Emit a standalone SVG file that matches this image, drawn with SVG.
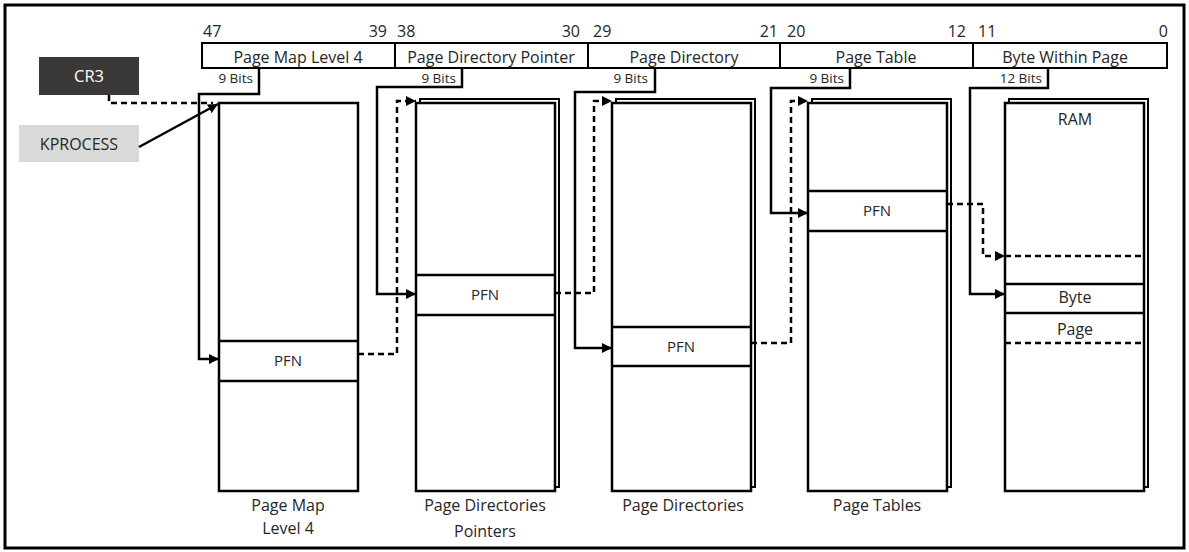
<svg xmlns="http://www.w3.org/2000/svg" width="1189" height="552" viewBox="0 0 1189 552">
<style>
text{font-family:"Open Sans","Liberation Sans",sans-serif;fill:#262626}
.num{font-size:16px}
.bar{font-size:16px;text-anchor:middle}
.bits{font-size:13.5px;text-anchor:end}
.lbl{font-size:16px;text-anchor:middle}
.pfn{font-size:15px;text-anchor:middle}
.box{fill:#fff;stroke:#000;stroke-width:2.5}
.back{fill:#fff;stroke:#000;stroke-width:2}
.row{stroke:#000;stroke-width:2.5}
.rowd{stroke:#000;stroke-width:2.5;stroke-dasharray:6 4}
.c{fill:none;stroke:#000;stroke-width:2.5}
.d{fill:none;stroke:#000;stroke-width:2.5;stroke-dasharray:6 4}
</style>
<defs>
<marker id="ah" markerUnits="userSpaceOnUse" markerWidth="10" markerHeight="10" refX="10" refY="5" orient="auto">
<path d="M0,0 L10,5 L0,10 z" fill="#000"/>
</marker>
</defs>
<rect x="5" y="5" width="1179" height="543" fill="#fff" stroke="#000" stroke-width="3"/>

<g id="address">
<rect x="202" y="43" width="965" height="25" fill="#fff" stroke="#000" stroke-width="2"/>
<path d="M395,43V68M588,43V68M780,43V68M973,43V68" stroke="#000" stroke-width="2"/>
<text class="bar" x="298" y="63">Page Map Level 4</text>
<text class="bar" x="491" y="63">Page Directory Pointer</text>
<text class="bar" x="684" y="63">Page Directory</text>
<text class="bar" x="876" y="63">Page Table</text>
<text class="bar" x="1065" y="63">Byte Within Page</text>
<text class="num" x="203" y="37">47</text>
<text class="num" x="387" y="37" text-anchor="end">39</text>
<text class="num" x="397" y="37">38</text>
<text class="num" x="580" y="37" text-anchor="end">30</text>
<text class="num" x="593" y="37">29</text>
<text class="num" x="778" y="37" text-anchor="end">21</text>
<text class="num" x="787" y="37">20</text>
<text class="num" x="966" y="37" text-anchor="end">12</text>
<text class="num" x="978" y="37">11</text>
<text class="num" x="1168" y="37" text-anchor="end">0</text>
<text class="bits" x="253" y="83">9 Bits</text>
<text class="bits" x="456" y="83">9 Bits</text>
<text class="bits" x="648" y="83">9 Bits</text>
<text class="bits" x="844" y="83">9 Bits</text>
<text class="bits" x="1042" y="83">12 Bits</text>
</g>

<g id="cr3">
<rect x="39" y="57" width="100" height="38" fill="#3b3838"/>
<text x="89" y="82" text-anchor="middle" style="font-size:16.5px;fill:#fff">CR3</text>
</g>
<g id="kprocess">
<rect x="19" y="125" width="120" height="37" fill="#d9d9d9"/>
<text x="79" y="149.5" text-anchor="middle" style="font-size:16px">KPROCESS</text>
</g>

<g id="pml4">
<rect class="box" x="219" y="103" width="139" height="388"/>
<line class="row" x1="219" y1="341" x2="358" y2="341"/>
<line class="row" x1="219" y1="381" x2="358" y2="381"/>
<text class="pfn" x="288" y="366">PFN</text>
<text class="lbl" x="288" y="511">Page Map</text>
<text class="lbl" x="288" y="534">Level 4</text>
</g>

<g id="pdp">
<rect class="back" x="420" y="99" width="139" height="388"/>
<rect class="box" x="416" y="103" width="139" height="388"/>
<line class="row" x1="416" y1="275" x2="555" y2="275"/>
<line class="row" x1="416" y1="315" x2="555" y2="315"/>
<text class="pfn" x="485" y="300">PFN</text>
<text class="lbl" x="485" y="511">Page Directories</text>
<text class="lbl" x="485" y="537">Pointers</text>
</g>

<g id="pd">
<rect class="back" x="616" y="99" width="139" height="388"/>
<rect class="box" x="612" y="103" width="139" height="388"/>
<line class="row" x1="612" y1="327" x2="751" y2="327"/>
<line class="row" x1="612" y1="366" x2="751" y2="366"/>
<text class="pfn" x="681" y="352">PFN</text>
<text class="lbl" x="683" y="511">Page Directories</text>
</g>

<g id="pt">
<rect class="back" x="812" y="99" width="139" height="388"/>
<rect class="box" x="808" y="103" width="139" height="388"/>
<line class="row" x1="808" y1="191" x2="947" y2="191"/>
<line class="row" x1="808" y1="231" x2="947" y2="231"/>
<text class="pfn" x="877" y="216">PFN</text>
<text class="lbl" x="877" y="511">Page Tables</text>
</g>

<g id="ram">
<rect class="back" x="1009" y="99" width="139" height="388"/>
<rect class="box" x="1005" y="103" width="139" height="388"/>
<text class="lbl" x="1075" y="125">RAM</text>
<line class="rowd" x1="1005" y1="256" x2="1144" y2="256"/>
<line class="row" x1="1005" y1="284" x2="1144" y2="284"/>
<line class="row" x1="1005" y1="313" x2="1144" y2="313"/>
<line class="rowd" x1="1005" y1="343" x2="1144" y2="343"/>
<text class="lbl" x="1075" y="303">Byte</text>
<text class="lbl" x="1075" y="335">Page</text>
</g>

<g id="connectors">
<path class="d" d="M109,95V103H213"/>
<path class="c" d="M139,147L218,104" marker-end="url(#ah)"/>
<path class="c" d="M259,68V94H199V359H219" marker-end="url(#ah)"/>
<path class="d" d="M358,354H397V101H416" marker-end="url(#ah)"/>
<path class="c" d="M462,68V87H377V294H416" marker-end="url(#ah)"/>
<path class="d" d="M555,293H594V101H612" marker-end="url(#ah)"/>
<path class="c" d="M655,68V92H575V348H612" marker-end="url(#ah)"/>
<path class="d" d="M751,343H791V101H808" marker-end="url(#ah)"/>
<path class="c" d="M850,68V88H771V213H808" marker-end="url(#ah)"/>
<path class="d" d="M947,204H983V256H1005" marker-end="url(#ah)"/>
<path class="c" d="M1048,68V88H970V294H1005" marker-end="url(#ah)"/>
</g>
</svg>
